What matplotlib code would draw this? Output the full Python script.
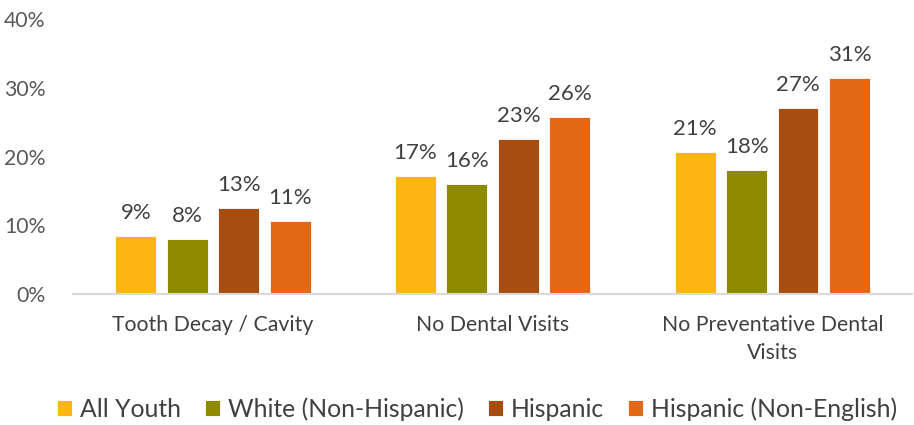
import matplotlib
matplotlib.use("Agg")
import matplotlib.pyplot as plt
import numpy as np

categories = ["Tooth Decay / Cavity", "No Dental Visits", "No Preventative Dental\nVisits"]
series = ["All Youth", "White (Non-Hispanic)", "Hispanic", "Hispanic (Non-English)"]
all_youth = [8.5, 17.2, 20.7]
white = [8.0, 16.0, 18.1]
hispanic = [12.5, 22.6, 27.1]
hispanic_ne = [10.6, 25.8, 31.4]
labels = [["9%", "17%", "21%"], ["8%", "16%", "18%"], ["13%", "23%", "27%"], ["11%", "26%", "31%"]]
yticks = [0, 10, 20, 30, 40]
colors = ["#FBB614", "#8E8A00", "#A64D0F", "#E26717"]

plt.rcParams['font.family'] = ['Lato', 'DejaVu Sans']

fig = plt.figure(figsize=(9.14, 4.25), dpi=100)
ax = fig.add_axes([0.08, 0.308, 0.918, 0.647])

x = np.arange(len(categories))
width = 0.146
step = 0.184
data = [all_youth, white, hispanic, hispanic_ne]
for i, (vals, c, name) in enumerate(zip(data, colors, series)):
    pos = x + (i - 1.5) * step
    ax.bar(pos, vals, width, color=c, label=name, edgecolor="white", linewidth=0.6)
    for p, v, lab in zip(pos, vals, labels[i]):
        ax.text(p, v + 1.9, lab, ha="center", va="bottom", fontsize=16, color="#404040")

ax.set_xlim(-0.5, 2.5)
ax.set_ylim(0, 40)
ax.set_yticks(yticks)
ax.set_yticklabels([f"{t}%" for t in yticks], fontsize=15.3, color="#595959")
ax.set_xticks(x)
ax.set_xticklabels(categories, fontsize=15.3, color="#404040", linespacing=1.5)
ax.tick_params(axis="x", length=0, pad=15)
ax.tick_params(axis="y", length=0, pad=20)
for s in ["top", "right", "left"]:
    ax.spines[s].set_visible(False)
ax.spines["bottom"].set_color("#D9D9D9")
ax.spines["bottom"].set_linewidth(1.5)

fig.legend(loc="center", bbox_to_anchor=(0.522, 0.038), ncol=4, frameon=False,
           fontsize=17.8, handlelength=0.6, handleheight=0.6, handletextpad=0.3,
           columnspacing=1.0, labelcolor="#404040")

fig.savefig("out.png", dpi=100)
